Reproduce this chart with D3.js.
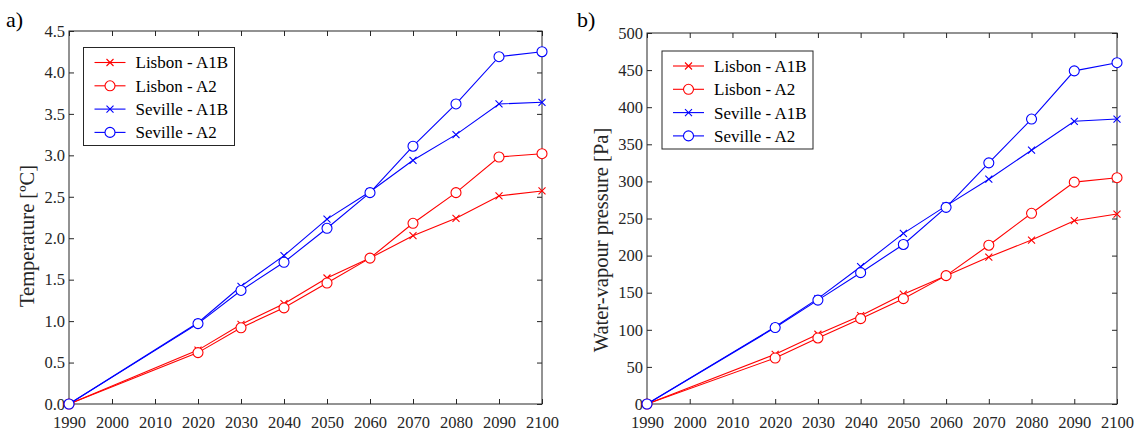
<!DOCTYPE html>
<html>
<head>
<meta charset="utf-8">
<script src="https://cdn.jsdelivr.net/npm/d3@7"></script>
<style>
  html, body { margin: 0; padding: 0; background: #fff; }
  svg { display: block; }
</style>
</head>
<body>
<svg id="chart" width="1141" height="435"></svg>
<script>
// Projection years (x axis)
const years = [1990, 2020, 2030, 2040, 2050, 2060, 2070, 2080, 2090, 2100];
const xTicks = [1990, 2000, 2010, 2020, 2030, 2040, 2050, 2060, 2070, 2080, 2090, 2100];

// Series names and legend labels
const seriesNames = ["Lisbon - A1B", "Lisbon - A2", "Seville - A1B", "Seville - A2"];

// a) Temperature increase [ºC]
const tempLisbonA1B  = [0, 0.65, 0.96, 1.21, 1.52, 1.76, 2.03, 2.24, 2.51, 2.57];
const tempLisbonA2   = [0, 0.62, 0.92, 1.16, 1.46, 1.76, 2.18, 2.55, 2.98, 3.02];
const tempSevilleA1B = [0, 0.98, 1.42, 1.79, 2.23, 2.56, 2.94, 3.25, 3.62, 3.64];
const tempSevilleA2  = [0, 0.97, 1.37, 1.71, 2.12, 2.55, 3.11, 3.62, 4.19, 4.25];
const tempTicks = [0, 0.5, 1.0, 1.5, 2.0, 2.5, 3.0, 3.5, 4.0, 4.5];

// b) Water-vapour pressure increase [Pa]
const vapLisbonA1B  = [0, 67, 94, 119, 148, 173, 198, 221, 247, 256];
const vapLisbonA2   = [0, 62, 89, 115, 142, 173, 214, 257, 299, 305];
const vapSevilleA1B = [0, 104, 142, 185, 230, 267, 303, 342, 381, 384];
const vapSevilleA2  = [0, 103, 140, 177, 215, 265, 325, 384, 449, 460];
const vapTicks = [0, 50, 100, 150, 200, 250, 300, 350, 400, 450, 500];

// Styles per series: colour and marker shape
const seriesColors  = ["#ff0000", "#ff0000", "#0000ff", "#0000ff"];
const seriesMarkers = ["x", "o", "x", "o"];

const FONT = "'Liberation Serif', 'Times New Roman', Times, 'DejaVu Serif', serif";

const svg = d3.select("#chart").attr("font-family", FONT);
svg.append("rect").attr("width", 1141).attr("height", 435).attr("fill", "#fff");

const axisColor = "#262626";
const tickLen = 5;

function drawPanel(opt) {
  const { left, right, top, bottom, yMax, yTicks, yFormat, series, tag, tagX,
          yLabel, yLabelX, yLabelY, legend } = opt;

  const x = d3.scaleLinear().domain([1990, 2100]).range([left, right]);
  const y = d3.scaleLinear().domain([0, yMax]).range([bottom, top]);

  const g = svg.append("g");

  // axes with inward ticks on all four sides
  const styleAxis = sel => {
    sel.attr("font-family", FONT).attr("font-size", 16.5);
    sel.select(".domain").remove();
    sel.selectAll(".tick line").attr("stroke", axisColor).attr("stroke-width", 1);
    sel.selectAll(".tick text")
      .style("font-family", FONT)
      .style("font-size", "16.5px")
      .attr("fill", axisColor);
  };

  g.append("g").attr("transform", `translate(0,${bottom})`)
    .call(d3.axisBottom(x).tickValues(xTicks).tickFormat(d3.format("d"))
      .tickSizeInner(-tickLen).tickSizeOuter(0).tickPadding(12))
    .call(styleAxis);
  g.append("g").attr("transform", `translate(0,${top})`)
    .call(d3.axisTop(x).tickValues(xTicks).tickFormat("")
      .tickSizeInner(-tickLen).tickSizeOuter(0))
    .call(styleAxis);
  g.append("g").attr("transform", `translate(${left},0)`)
    .call(d3.axisLeft(y).tickValues(yTicks).tickFormat(yFormat)
      .tickSizeInner(-tickLen).tickSizeOuter(0).tickPadding(4))
    .call(styleAxis);
  g.append("g").attr("transform", `translate(${right},0)`)
    .call(d3.axisRight(y).tickValues(yTicks).tickFormat("")
      .tickSizeInner(-tickLen).tickSizeOuter(0))
    .call(styleAxis);

  // axes box
  g.append("rect")
    .attr("x", left).attr("y", top)
    .attr("width", right - left).attr("height", bottom - top)
    .attr("fill", "none").attr("stroke", axisColor).attr("stroke-width", 1);

  const line = d3.line().x((d, i) => x(years[i])).y(d => y(d));

  const drawMarker = (sel, shape, color) => {
    if (shape === "o") {
      sel.append("circle").attr("r", 5)
        .attr("fill", "#fff").attr("stroke", color).attr("stroke-width", 1.1);
    } else {
      sel.append("path").attr("d", "M-3.5,-3.5L3.5,3.5M-3.5,3.5L3.5,-3.5")
        .attr("fill", "none").attr("stroke", color).attr("stroke-width", 1.1);
    }
  };

  series.forEach((vals, k) => {
    const color = seriesColors[k];
    g.append("path").datum(vals)
      .attr("d", line)
      .attr("fill", "none").attr("stroke", color).attr("stroke-width", 1.1);
    g.append("g").selectAll("g").data(vals).join("g")
      .attr("transform", (d, i) => `translate(${x(years[i])},${y(d)})`)
      .each(function () { drawMarker(d3.select(this), seriesMarkers[k], color); });
  });

  // legend
  const lg = g.append("g");
  lg.append("rect")
    .attr("x", legend.x).attr("y", legend.y)
    .attr("width", legend.w).attr("height", legend.h)
    .attr("fill", "#fff").attr("stroke", axisColor).attr("stroke-width", 1);
  seriesNames.forEach((name, k) => {
    const ry = legend.y + 15 + k * 23.3;
    const color = seriesColors[k];
    lg.append("line")
      .attr("x1", legend.x + 11).attr("x2", legend.x + 42)
      .attr("y1", ry).attr("y2", ry)
      .attr("stroke", color).attr("stroke-width", 1.1);
    const m = lg.append("g").attr("transform", `translate(${legend.x + 26.5},${ry})`);
    drawMarker(m, seriesMarkers[k], color);
    lg.append("text")
      .attr("x", legend.x + 52).attr("y", ry)
      .attr("dy", "0.35em")
      .style("font-family", FONT)
      .style("font-size", "17px")
      .attr("fill", "#000")
      .text(name);
  });

  // y-axis title
  svg.append("text")
    .attr("transform", `translate(${yLabelX},${yLabelY}) rotate(-90)`)
    .attr("text-anchor", "middle")
    .style("font-family", FONT)
    .style("font-size", "20.5px")
    .attr("fill", axisColor)
    .text(yLabel);

  // panel tag
  svg.append("text")
    .attr("x", tagX).attr("y", 27)
    .style("font-family", FONT)
    .style("font-size", "22px")
    .attr("fill", "#000")
    .text(tag);
}

drawPanel({
  left: 69, right: 542, top: 31, bottom: 404,
  yMax: 4.5, yTicks: tempTicks, yFormat: d3.format(".1f"),
  series: [tempLisbonA1B, tempLisbonA2, tempSevilleA1B, tempSevilleA2],
  tag: "a)", tagX: 6,
  yLabel: "Temperature [ºC]", yLabelX: 34, yLabelY: 236,
  legend: { x: 83.5, y: 47.5, w: 151, h: 98 }
});

drawPanel({
  left: 647, right: 1117, top: 33, bottom: 404,
  yMax: 500, yTicks: vapTicks, yFormat: d3.format("d"),
  series: [vapLisbonA1B, vapLisbonA2, vapSevilleA1B, vapSevilleA2],
  tag: "b)", tagX: 577,
  yLabel: "Water-vapour pressure [Pa]", yLabelX: 608, yLabelY: 240,
  legend: { x: 662, y: 51, w: 151, h: 98 }
});
</script>
</body>
</html>
